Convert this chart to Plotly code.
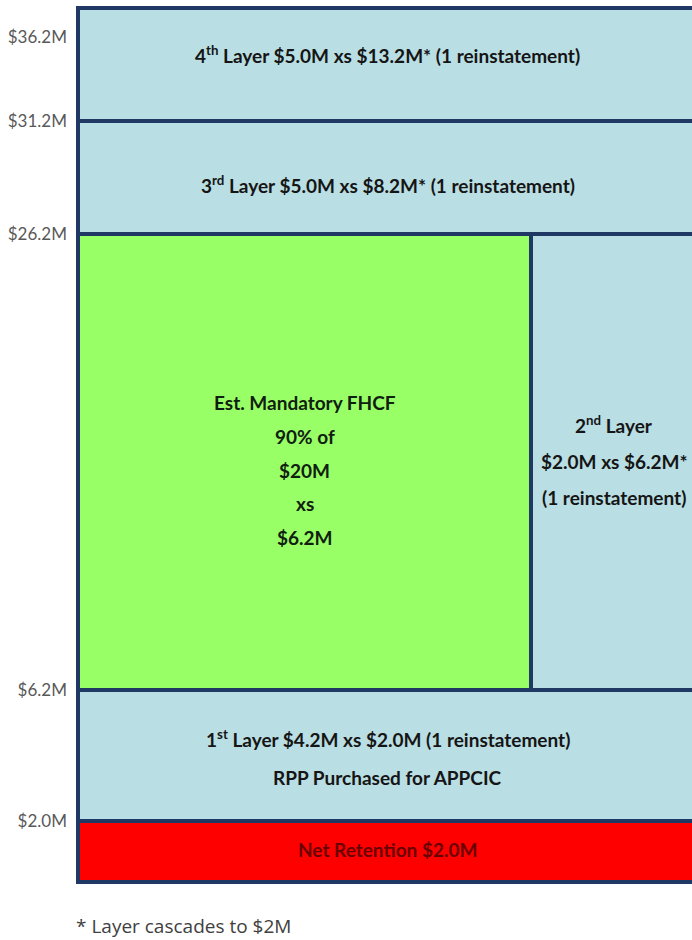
import numpy as np
import plotly.graph_objects as go

# ---------------- data ----------------
boundaries_m = [0.0, 2.0, 6.2, 26.2, 31.2, 36.2]          # layer attachment points ($M)
tick_values_m = [2.0, 6.2, 26.2, 31.2, 36.2]
tick_labels = ["$2.0M", "$6.2M", "$26.2M", "$31.2M", "$36.2M"]

layer_bottom_m = [0.0, 2.0, 6.2, 6.2, 26.2, 31.2]
layer_top_m = [2.0, 6.2, 26.2, 26.2, 31.2, 36.2]
layer_side = ["full", "full", "left", "right", "full", "full"]
layer_lines = [
    ["Net Retention $2.0M"],
    ["1<sup>st</sup> Layer $4.2M xs $2.0M (1 reinstatement)", "RPP Purchased for APPCIC"],
    ["Est. Mandatory FHCF", "90% of", "$20M", "xs", "$6.2M"],
    ["2<sup>nd</sup> Layer", "$2.0M xs $6.2M*", "(1 reinstatement)"],
    ["3<sup>rd</sup> Layer $5.0M xs $8.2M* (1 reinstatement)"],
    ["4<sup>th</sup> Layer $5.0M xs $13.2M* (1 reinstatement)"],
]
footnote = "* Layer cascades to $2M"

# ---------------- layout / style constants ----------------
W, H = 692, 940
band_px = [61, 131, 456, 113, 113]          # drawn (not-to-scale) height of each band
full_w, split_w = 619, 453                   # drawn widths
fill_colors = ["#FF0000", "#B9DEE3", "#99FF66", "#B9DEE3", "#B9DEE3", "#B9DEE3"]
text_colors = ["#6A0000", "#151515", "#102010", "#151515", "#151515", "#151515"]
label_offset = [2, -2, -8, 1, -7, 10]        # vertical nudge of each text block
line_gap = [0, 39, 33.75, 36.5, 0, 0]
edge = "#1F3864"
top_label_drop = 29

disp_bounds = np.concatenate([[0], np.cumsum(band_px)])


def to_disp(v):
    return float(np.interp(v, boundaries_m, disp_bounds))


fig = go.Figure()
for i in range(len(layer_bottom_m)):
    side = layer_side[i]
    x0, x1 = {"full": (0, full_w), "left": (0, split_w), "right": (split_w, full_w)}[side]
    b, t = to_disp(layer_bottom_m[i]), to_disp(layer_top_m[i])
    fig.add_trace(go.Bar(
        x=[(x0 + x1) / 2], y=[t - b], base=[b], width=[x1 - x0],
        marker=dict(color=fill_colors[i], line=dict(color=edge, width=4)),
        hoverinfo="skip", showlegend=False,
    ))
    lines = layer_lines[i]
    n = len(lines)
    yc = (b + t) / 2 + label_offset[i]
    for k, txt in enumerate(lines):
        fig.add_annotation(
            x=(x0 + x1) / 2, y=yc + ((n - 1) / 2 - k) * line_gap[i],
            xref="x", yref="y", text=txt, showarrow=False,
            xanchor="center", yanchor="middle",
            font=dict(family="Lato", size=19, color=text_colors[i], weight="bold"),
        )

tick_pos = [to_disp(v) for v in tick_values_m]
tick_pos[-1] = tick_pos[-1] - top_label_drop

fig.add_annotation(
    x=0, y=0, xref="paper", yref="paper", yanchor="middle", xanchor="left",
    text=footnote, showarrow=False, yshift=-40,
    font=dict(family="Open Sans", size=19, color="#404040"),
)

top = disp_bounds[-1]
fig.update_layout(
    width=W, height=H,
    margin=dict(l=74, r=0, t=4, b=54, pad=0),
    paper_bgcolor="white", plot_bgcolor="white",
    barmode="overlay", bargap=0,
    xaxis=dict(range=[-4, 614], visible=False, fixedrange=True),
    yaxis=dict(range=[-4, top + 4], tickvals=tick_pos, ticktext=tick_labels,
               showgrid=False, zeroline=False, showline=False, ticks="",
               ticklabelstandoff=6,
               tickfont=dict(family="Lato", size=17, color="#595959")),
)

fig.write_html("out.html")
